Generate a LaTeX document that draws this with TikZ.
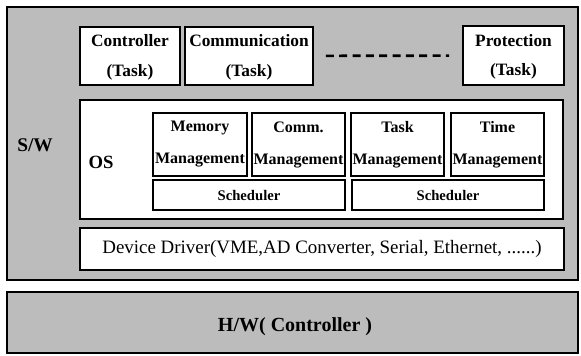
\documentclass[tikz,border=0pt]{standalone}
\usepackage{fontspec}
\setmainfont{Liberation Serif}
\definecolor{dotgray}{RGB}{188,188,188}
\begin{document}
\begin{tikzpicture}[x=0.75pt,y=-0.75pt,
  layer/.style={draw=black,line width=1.5pt,fill=dotgray,rectangle,inner sep=0pt},
  wbox/.style={draw=black,line width=1.3pt,fill=white,rectangle,inner sep=0pt,align=center},
  tasktxt/.style={font=\fontsize{13}{15}\selectfont\bfseries},
  mgtxt/.style={font=\fontsize{12}{13}\selectfont\bfseries},
  schtxt/.style={font=\fontsize{11}{13}\selectfont\bfseries},
  lbl/.style={font=\fontsize{14.5}{16}\selectfont\bfseries,inner sep=0pt}
]
\useasboundingbox (0,0) rectangle (581,355);
\fill[white] (0,0) rectangle (581,355);
% layers
\node[layer,minimum width=428.25pt,minimum height=204.4pt] (sw) at (292.5,143.75) {};
\node[layer,minimum width=428.25pt,minimum height=45.75pt] (hw) at (292.5,322.5) {};
% tasks
\node[wbox,tasktxt,minimum width=75pt,minimum height=43.5pt,text depth=1pt] (ctrl) at (130,56) {Controller\\[7pt](Task)};
\node[wbox,tasktxt,minimum width=96pt,minimum height=43.5pt,text depth=1pt] (comm) at (249,56) {Communication\\[7pt](Task)};
\node[wbox,tasktxt,minimum width=75.75pt,minimum height=44.25pt,text depth=1pt] (prot) at (513.5,55.5) {Protection\\[7pt](Task)};
\draw[line width=2pt,dash pattern=on 6pt off 4pt,shorten <=9pt,shorten >=9.75pt] (comm) -- (prot);
% OS
\node[wbox,minimum width=362.25pt,minimum height=89.25pt] (os) at (321.5,159.5) {};
\node[wbox,mgtxt,minimum width=70.5pt,minimum height=47.25pt] (mem) at (200,144.5) {Memory\\[11pt]Management};
\node[wbox,mgtxt,minimum width=69.75pt,minimum height=47.25pt] (cmm) at (298.5,144.5) {Comm.\\[11pt]Management};
\node[wbox,mgtxt,minimum width=69.75pt,minimum height=47.25pt] (task) at (397.5,144.5) {Task\\[11pt]Management};
\node[wbox,mgtxt,minimum width=69.75pt,minimum height=47.25pt] (time) at (497.5,144.5) {Time\\[11pt]Management};
\node[wbox,schtxt,minimum width=144pt,minimum height=22.5pt] (sch1) at (249,195) {Scheduler};
\node[wbox,schtxt,minimum width=144pt,minimum height=22.5pt] (sch2) at (448,195) {Scheduler};
% device driver
\node[wbox,font=\fontsize{14.2}{16}\selectfont,minimum width=363pt,minimum height=31.5pt] (dd) at (322,249) {Device Driver(VME,AD Converter, Serial, Ethernet, ......)};
% labels
\node[lbl] (swl) at (35,145) {S/W};
\node[lbl,font=\fontsize{14}{16}\selectfont\bfseries] (osl) at (101,162) {OS};
\node[lbl,font=\fontsize{15}{17}\selectfont\bfseries] (hwl) at (295,327) {H/W( Controller )};
\end{tikzpicture}
\end{document}
